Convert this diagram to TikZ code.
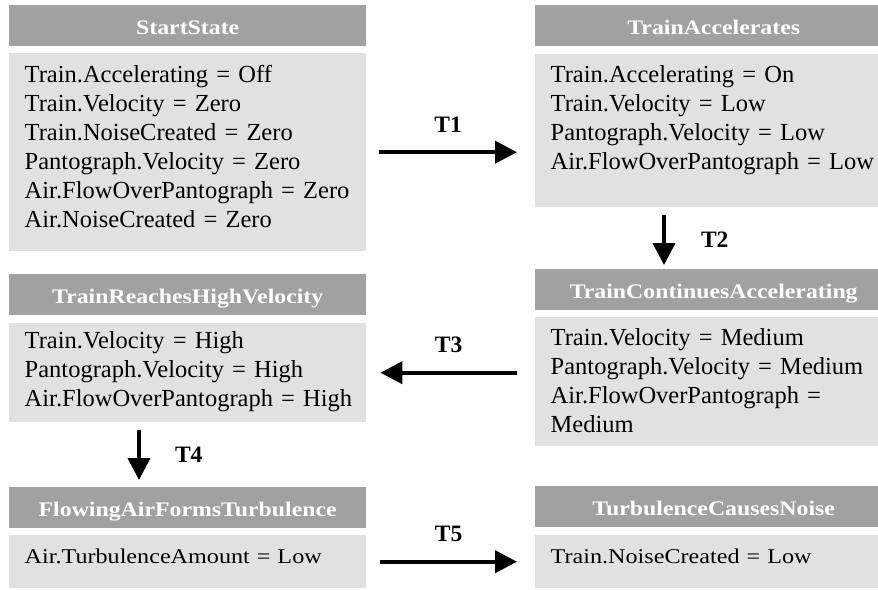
\documentclass[tikz,border=0pt]{standalone}
\usepackage{fontspec}
\setmainfont{Liberation Serif}
\newfontfamily\wideserif[FakeStretch=1.15]{Liberation Serif}
\usepackage{xcolor}
\usetikzlibrary{calc}
\usetikzlibrary{arrows.meta}
\definecolor{headgray}{RGB}{161,161,161}
\definecolor{bodygray}{RGB}{225,225,225}

\begin{document}
\begin{tikzpicture}[x=1pt, y=-1pt,
  statehead/.style={fill=headgray, text=white, anchor=north west, minimum width=357pt,
    minimum height=41pt, inner sep=0pt, text height=18pt, text depth=0pt,
    font=\wideserif\bfseries\fontsize{20.7}{24}\selectfont},
  statebody/.style={fill=bodygray, anchor=north west, text width=326pt, inner xsep=15.5pt,
    inner ysep=0pt, align=left, font=\fontsize{24.5}{29}\selectfont},
  widebody/.style={statebody, font=\wideserif\fontsize{21}{29}\selectfont},
  trans/.style={line width=4pt, -{Triangle[length=22pt,width=22pt]}},
  translabel/.style={font=\bfseries\fontsize{23.5}{28}\selectfont, inner sep=0pt}]

  % Frame
  \clip (0,0) rectangle (878,589);

  % Left column
  \node[statehead] (starthead) at (9,5) {StartState};
  \node[statebody, text height=29pt, text depth=169pt] (startbody) at (9,53)
    {Train.Accelerating~=~Off\\Train.Velocity~=~Zero\\Train.NoiseCreated~=~Zero\\
     Pantograph.Velocity~=~Zero\\Air.FlowOverPantograph~=~Zero\\Air.NoiseCreated~=~Zero};

  \node[statehead] (reachhead) at (9,274) {TrainReachesHighVelocity};
  \node[statebody, text height=25pt, text depth=74pt] (reachbody) at (9,323)
    {Train.Velocity~=~High\\Pantograph.Velocity~=~High\\Air.FlowOverPantograph~=~High};

  \node[statehead] (flowhead) at (9,487) {FlowingAirFormsTurbulence};
  \node[widebody, text height=28pt, text depth=25pt] (flowbody) at (9,535)
    {Air.TurbulenceAmount~=~Low};

  % Right column
  \node[statehead] (acchead) at (535,5) {TrainAccelerates};
  \node[statebody, text height=28pt, text depth=125pt] (accbody) at (535,54)
    {Train.Accelerating~=~On\\Train.Velocity~=~Low\\Pantograph.Velocity~=~Low\\
     Air.FlowOverPantograph~=~Low};

  \node[statehead] (conthead) at (535,269) {TrainContinuesAccelerating};
  \node[statebody, text height=28pt, text depth=101pt] (contbody) at (535,317)
    {Train.Velocity~=~Medium\\Pantograph.Velocity~=~Medium\\Air.FlowOverPantograph~=\\Medium};

  \node[statehead] (noisehead) at (535,486) {TurbulenceCausesNoise};
  \node[widebody, text height=28pt, text depth=25pt] (noisebody) at (535,535)
    {Train.NoiseCreated~=~Low};

  % Transitions
  \draw[trans] ($(startbody.east)+(13,0)$) -- ($(startbody.east -| accbody.west)+(-18,0)$)
    node[translabel, midway, above=18pt] {T1};
  \draw[trans] ($(accbody.south west)+(129,8)$) -- ($(conthead.north west)+(129,-4)$)
    node[translabel, midway, right=35pt] {T2};
  \draw[trans] ($(reachbody.east -| contbody.west)+(-18,0)$) -- ($(reachbody.east)+(14,0)$)
    node[translabel, midway, above=18pt] {T3};
  \draw[trans] ($(reachbody.south west)+(130,8)$) -- ($(flowhead.north west)+(130,-7)$)
    node[translabel, midway, right=34pt] {T4};
  \draw[trans] ($(flowbody.east)+(14,0)$) -- ($(flowbody.east -| noisebody.west)+(-18,0)$)
    node[translabel, midway, above=18pt] {T5};
\end{tikzpicture}
\end{document}
